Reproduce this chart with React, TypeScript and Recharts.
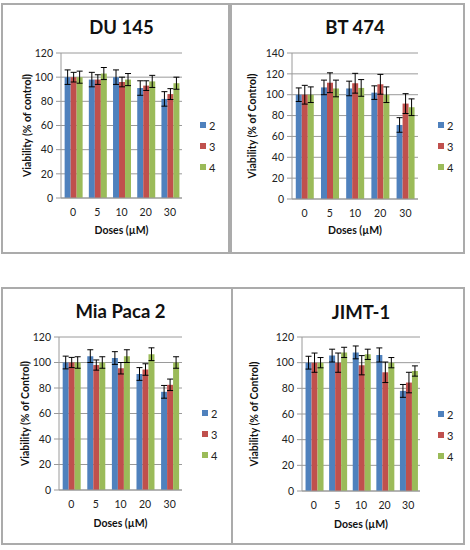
import React from "react"
import {
  BarChart,
  Bar,
  XAxis,
  YAxis,
  CartesianGrid,
  ErrorBar,
  Legend,
} from "recharts"

// doses shared by all four panels
const doses = ["0", "5", "10", "20", "30"]

// DU 145
const du145Mean2 = [100, 98, 100, 91, 82]
const du145Err2 = [6, 6, 6, 6, 6]
const du145Mean3 = [100, 98, 96, 93, 86]
const du145Err3 = [4, 4, 4, 4, 4.5]
const du145Mean4 = [100, 103, 98, 96.5, 95]
const du145Err4 = [5, 5, 5, 5, 5]

// BT 474
const bt474Mean2 = [100, 107, 106, 102, 71]
const bt474Err2 = [6.5, 7, 7, 6.5, 7]
const bt474Mean3 = [100, 111.5, 111, 110, 91.5]
const bt474Err3 = [9, 9.5, 9.5, 9.5, 9.5]
const bt474Mean4 = [100, 106, 106.5, 100, 88]
const bt474Err4 = [7.5, 8, 8, 7.5, 8]

// Mia Paca 2
const miaMean2 = [100, 105, 103.5, 91, 77]
const miaErr2 = [5, 5, 5, 5, 5]
const miaMean3 = [100, 98, 95.5, 94.5, 82.5]
const miaErr3 = [4, 4, 4.5, 4.5, 4.5]
const miaMean4 = [100, 100, 105, 106.5, 100]
const miaErr4 = [4.5, 4.5, 5, 5, 4.5]

// JIMT-1
const jimtMean2 = [100, 105.5, 108, 106, 78]
const jimtErr2 = [5, 5, 5, 5.5, 5]
const jimtMean3 = [100, 100, 98, 92.5, 84.5]
const jimtErr3 = [7.5, 7.5, 7.5, 8, 8]
const jimtMean4 = [100, 108, 106.5, 100, 93.5]
const jimtErr4 = [4, 4, 4, 4, 4]

const seriesNames = ["2", "3", "4"]
const seriesColors = ["#4f81bd", "#c0504d", "#9bbb59"]

const ticks120 = [0, 20, 40, 60, 80, 100, 120]
const ticks140 = [0, 20, 40, 60, 80, 100, 120, 140]

const FONT = "Lato, 'Liberation Sans', sans-serif"
const GRID = "#9a9a9a"

function buildRows(means: number[][], errs: number[][]) {
  return doses.map((dose, i) => ({
    dose,
    s2: means[0][i],
    e2: errs[0][i],
    s3: means[1][i],
    e3: errs[1][i],
    s4: means[2][i],
    e4: errs[2][i],
  }))
}

const LegendBox = () => (
  <div style={{ fontFamily: FONT, fontSize: 11, color: "#222" }}>
    {seriesNames.map((name, i) => (
      <div key={name} style={{ height: 21, display: "flex", alignItems: "center" }}>
        <span
          style={{
            width: 6,
            height: 6,
            background: seriesColors[i],
            display: "inline-block",
            marginRight: 3,
          }}
        />
        <span>{name}</span>
      </div>
    ))}
  </div>
)

interface PanelProps {
  box: { left: number; top: number; width: number; height: number }
  plot: { left: number; top: number; right: number; bottom: number }
  title: string
  titleY: number
  yLabel: string
  yLabelX: number
  xLabelY: number
  legendX: number
  legendY: number
  yMax: number
  yTicks: number[]
  means: number[][]
  errs: number[][]
}

function Panel(p: PanelProps) {
  const { box, plot } = p
  const data = buildRows(p.means, p.errs)
  const boxBottom = box.top + box.height
  const boxRight = box.left + box.width
  const titleX = (plot.left + plot.right) / 2
  return (
    <>
      <div
        style={{
          position: "absolute",
          left: box.left,
          top: box.top,
          width: box.width,
          height: box.height,
          border: "2px solid #ababab",
          boxSizing: "border-box",
        }}
      />
      <div
        style={{
          position: "absolute",
          left: titleX - 100,
          width: 200,
          top: p.titleY - 12,
          height: 24,
          lineHeight: "24px",
          textAlign: "center",
          fontFamily: FONT,
          fontWeight: 700,
          fontSize: 18.5,
          color: "#111",
        }}
      >
        {p.title}
      </div>
      <div style={{ position: "absolute", left: box.left, top: box.top }}>
        <BarChart
          width={box.width}
          height={box.height}
          data={data}
          margin={{
            top: plot.top - box.top,
            right: boxRight - plot.right,
            left: 0,
            bottom: 0,
          }}
          barCategoryGap="15%"
          barGap={0}
        >
          <CartesianGrid vertical={false} stroke={GRID} strokeWidth={1} />
          <XAxis
            dataKey="dose"
            height={boxBottom - plot.bottom}
            tickLine={false}
            tickSize={0}
            tickMargin={11}
            axisLine={{ stroke: GRID }}
            tick={{ fill: "#222", fontSize: 10.5, fontFamily: FONT }}
            label={{
              value: "Doses (\u00b5M)",
              position: "insideBottom",
              offset: boxBottom - (p.xLabelY + 3.5),
              style: { fontFamily: FONT, fontWeight: 700, fontSize: 10.5, fill: "#111" },
            }}
          />
          <YAxis
            width={plot.left - box.left}
            domain={[0, p.yMax]}
            ticks={p.yTicks}
            interval={0}
            tickSize={5}
            tickMargin={3}
            tickLine={{ stroke: GRID }}
            axisLine={{ stroke: GRID }}
            tick={{ fill: "#222", fontSize: 10.5, fontFamily: FONT }}
            label={{
              value: p.yLabel,
              angle: -90,
              position: "insideLeft",
              offset: p.yLabelX - box.left,
              style: {
                fontFamily: FONT,
                fontWeight: 700,
                fontSize: 10.5,
                fill: "#111",
                textAnchor: "middle",
              },
            }}
          />
          <Legend
            layout="vertical"
            align="center"
            verticalAlign="middle"
            wrapperStyle={{ left: p.legendX - box.left, top: p.legendY - box.top, width: 24 }}
            content={() => <LegendBox />}
          />
          {seriesNames.map((name, i) => (
            <Bar
              key={name}
              dataKey={`s${name}`}
              name={name}
              fill={seriesColors[i]}
              isAnimationActive={false}
            >
              <ErrorBar
                dataKey={`e${name}`}
                width={3}
                stroke="#000"
                strokeWidth={1}
                direction="y"
              />
            </Bar>
          ))}
        </BarChart>
      </div>
    </>
  )
}

export default function App() {
  return (
    <div
      style={{
        position: "fixed",
        left: 0,
        top: 0,
        width: 470,
        height: 550,
        background: "#fff",
      }}
    >
      <Panel
        box={{ left: 1, top: 3, width: 229, height: 251 }}
        plot={{ left: 61, top: 53, right: 182, bottom: 198 }}
        title="DU 145"
        titleY={27}
        yLabel="Viability (% of control)"
        yLabelX={27}
        xLabelY={230}
        legendX={200}
        legendY={114.5}
        yMax={120}
        yTicks={ticks120}
        means={[du145Mean2, du145Mean3, du145Mean4]}
        errs={[du145Err2, du145Err3, du145Err4]}
      />
      <Panel
        box={{ left: 230, top: 3, width: 235, height: 251 }}
        plot={{ left: 292, top: 53, right: 418, bottom: 199 }}
        title="BT 474"
        titleY={27}
        yLabel="Viability (% of Control)"
        yLabelX={252}
        xLabelY={230}
        legendX={438}
        legendY={114.5}
        yMax={140}
        yTicks={ticks140}
        means={[bt474Mean2, bt474Mean3, bt474Mean4]}
        errs={[bt474Err2, bt474Err3, bt474Err4]}
      />
      <Panel
        box={{ left: 1, top: 287, width: 232, height: 258 }}
        plot={{ left: 59, top: 337, right: 182, bottom: 490 }}
        title="Mia Paca 2"
        titleY={311}
        yLabel="Viability (% of Control)"
        yLabelX={25}
        xLabelY={523}
        legendX={202}
        legendY={402.5}
        yMax={120}
        yTicks={ticks120}
        means={[miaMean2, miaMean3, miaMean4]}
        errs={[miaErr2, miaErr3, miaErr4]}
      />
      <Panel
        box={{ left: 231, top: 287, width: 234, height: 258 }}
        plot={{ left: 302, top: 337, right: 420, bottom: 491 }}
        title="JIMT-1"
        titleY={312}
        yLabel="Viability (% of Control)"
        yLabelX={254}
        xLabelY={524}
        legendX={438}
        legendY={403.5}
        yMax={120}
        yTicks={ticks120}
        means={[jimtMean2, jimtMean3, jimtMean4]}
        errs={[jimtErr2, jimtErr3, jimtErr4]}
      />
    </div>
  )
}
